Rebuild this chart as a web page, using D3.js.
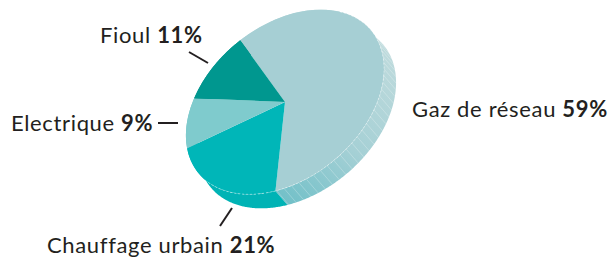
<!DOCTYPE html>
<html>
<head>
<meta charset="utf-8">
<script src="https://cdn.jsdelivr.net/npm/d3@7"></script>
<style>
  body { margin: 0; background: #fff; }
  text { font-family: Lato, "Open Sans", sans-serif; fill: #231f20; }
</style>
</head>
<body>
<div id="chart"></div>
<script>
// chart data
var categories = ["Gaz de réseau", "Chauffage urbain", "Electrique", "Fioul"];
var values = [59, 21, 9, 11];

// colours of the top faces and of the sides
var topColors = ["#a6cfd4", "#00b6b8", "#7fcbcd", "#00978f"];
var sideColors = ["url(#gazSide)", "#00b3b5", "#6fc3c5", "#008a83"];

var svgWidth = 611;
var svgHeight = 258;

// ellipse of the tilted pie
var cx = 285, cy = 102, radius = 112, tilt = 0.68, rot = -39.5;
var depth = { x: 12, y: 14 };
var startAngle = 0.042;

var svg = d3.select("#chart")
    .append("svg")
    .attr("width", svgWidth)
    .attr("height", svgHeight);

var defs = svg.append("defs");
var grad = defs.append("linearGradient")
    .attr("id", "gazSide")
    .attr("gradientUnits", "userSpaceOnUse")
    .attr("x1", 395).attr("y1", 60)
    .attr("x2", 290).attr("y2", 205);
grad.append("stop").attr("offset", "0%").attr("stop-color", "#bddadc");
grad.append("stop").attr("offset", "55%").attr("stop-color", "#a5d0d5");
grad.append("stop").attr("offset", "100%").attr("stop-color", "#72c0c8");

var pie = d3.pie()
    .sort(null)
    .startAngle(startAngle)
    .endAngle(startAngle + 2 * Math.PI);
var slices = pie(values);

// project an angle of the flat pie onto the tilted ellipse
function proj(a) {
    var x = radius * Math.sin(a);
    var y = -radius * Math.cos(a) * tilt;
    var t = rot * Math.PI / 180;
    return [cx + x * Math.cos(t) - y * Math.sin(t), cy + x * Math.sin(t) + y * Math.cos(t)];
}

function arcPoints(a0, a1) {
    var pts = d3.range(a0, a1, 0.01).map(proj);
    pts.push(proj(a1));
    return pts;
}

var line = d3.line();

// sides
var sideGroup = svg.append("g");
slices.forEach(function(s, i) {
    var front = arcPoints(s.startAngle, s.endAngle);
    var back = front.slice().reverse().map(function(p) { return [p[0] + depth.x, p[1] + depth.y]; });
    sideGroup.append("path")
        .attr("d", line(front.concat(back)) + "Z")
        .attr("fill", sideColors[i]);
});

// hatching on the gas side
var gas = slices[0];
d3.range(gas.startAngle + 0.02, gas.endAngle, 0.075).forEach(function(a) {
    var p = proj(a);
    sideGroup.append("line")
        .attr("x1", p[0]).attr("y1", p[1])
        .attr("x2", p[0] + depth.x).attr("y2", p[1] + depth.y)
        .attr("stroke", "#ffffff")
        .attr("stroke-opacity", 0.35)
        .attr("stroke-width", 0.7);
});

// top faces
var arc = d3.arc().innerRadius(0).outerRadius(radius);
var topGroup = svg.append("g")
    .attr("transform", `translate(${cx}, ${cy}) rotate(${rot}) scale(1, ${tilt})`);
topGroup.selectAll("path")
    .data(slices)
    .enter()
    .append("path")
    .attr("d", arc)
    .attr("fill", (d, i) => topColors[i]);

// faint dotted rim on the front edge
svg.append("path")
    .attr("d", line(arcPoints(1.1, 4.55)))
    .attr("fill", "none")
    .attr("stroke", "#ffffff")
    .attr("stroke-opacity", 0.55)
    .attr("stroke-width", 0.8)
    .attr("stroke-dasharray", "2,2");

// labels
var labelLayout = [
    { x: 412, y: 117, lead: null },
    { x: 47, y: 253, lead: [232, 208, 220, 226] },
    { x: 11, y: 131, lead: [158, 123, 178, 123] },
    { x: 100, y: 43, lead: [189, 52, 208, 63] }
];

categories.forEach(function(c, i) {
    var l = labelLayout[i];
    var t = svg.append("text")
        .attr("x", l.x)
        .attr("y", l.y)
        .style("font-size", "22px")
        .style("letter-spacing", "0.65px");
    t.append("tspan").text(c + " ");
    t.append("tspan").attr("font-weight", "bold").text(values[i] + "%");
    if (l.lead) {
        svg.append("line")
            .attr("x1", l.lead[0]).attr("y1", l.lead[1])
            .attr("x2", l.lead[2]).attr("y2", l.lead[3])
            .attr("stroke", "#231f20")
            .attr("stroke-width", 2);
    }
});
</script>
</body>
</html>
